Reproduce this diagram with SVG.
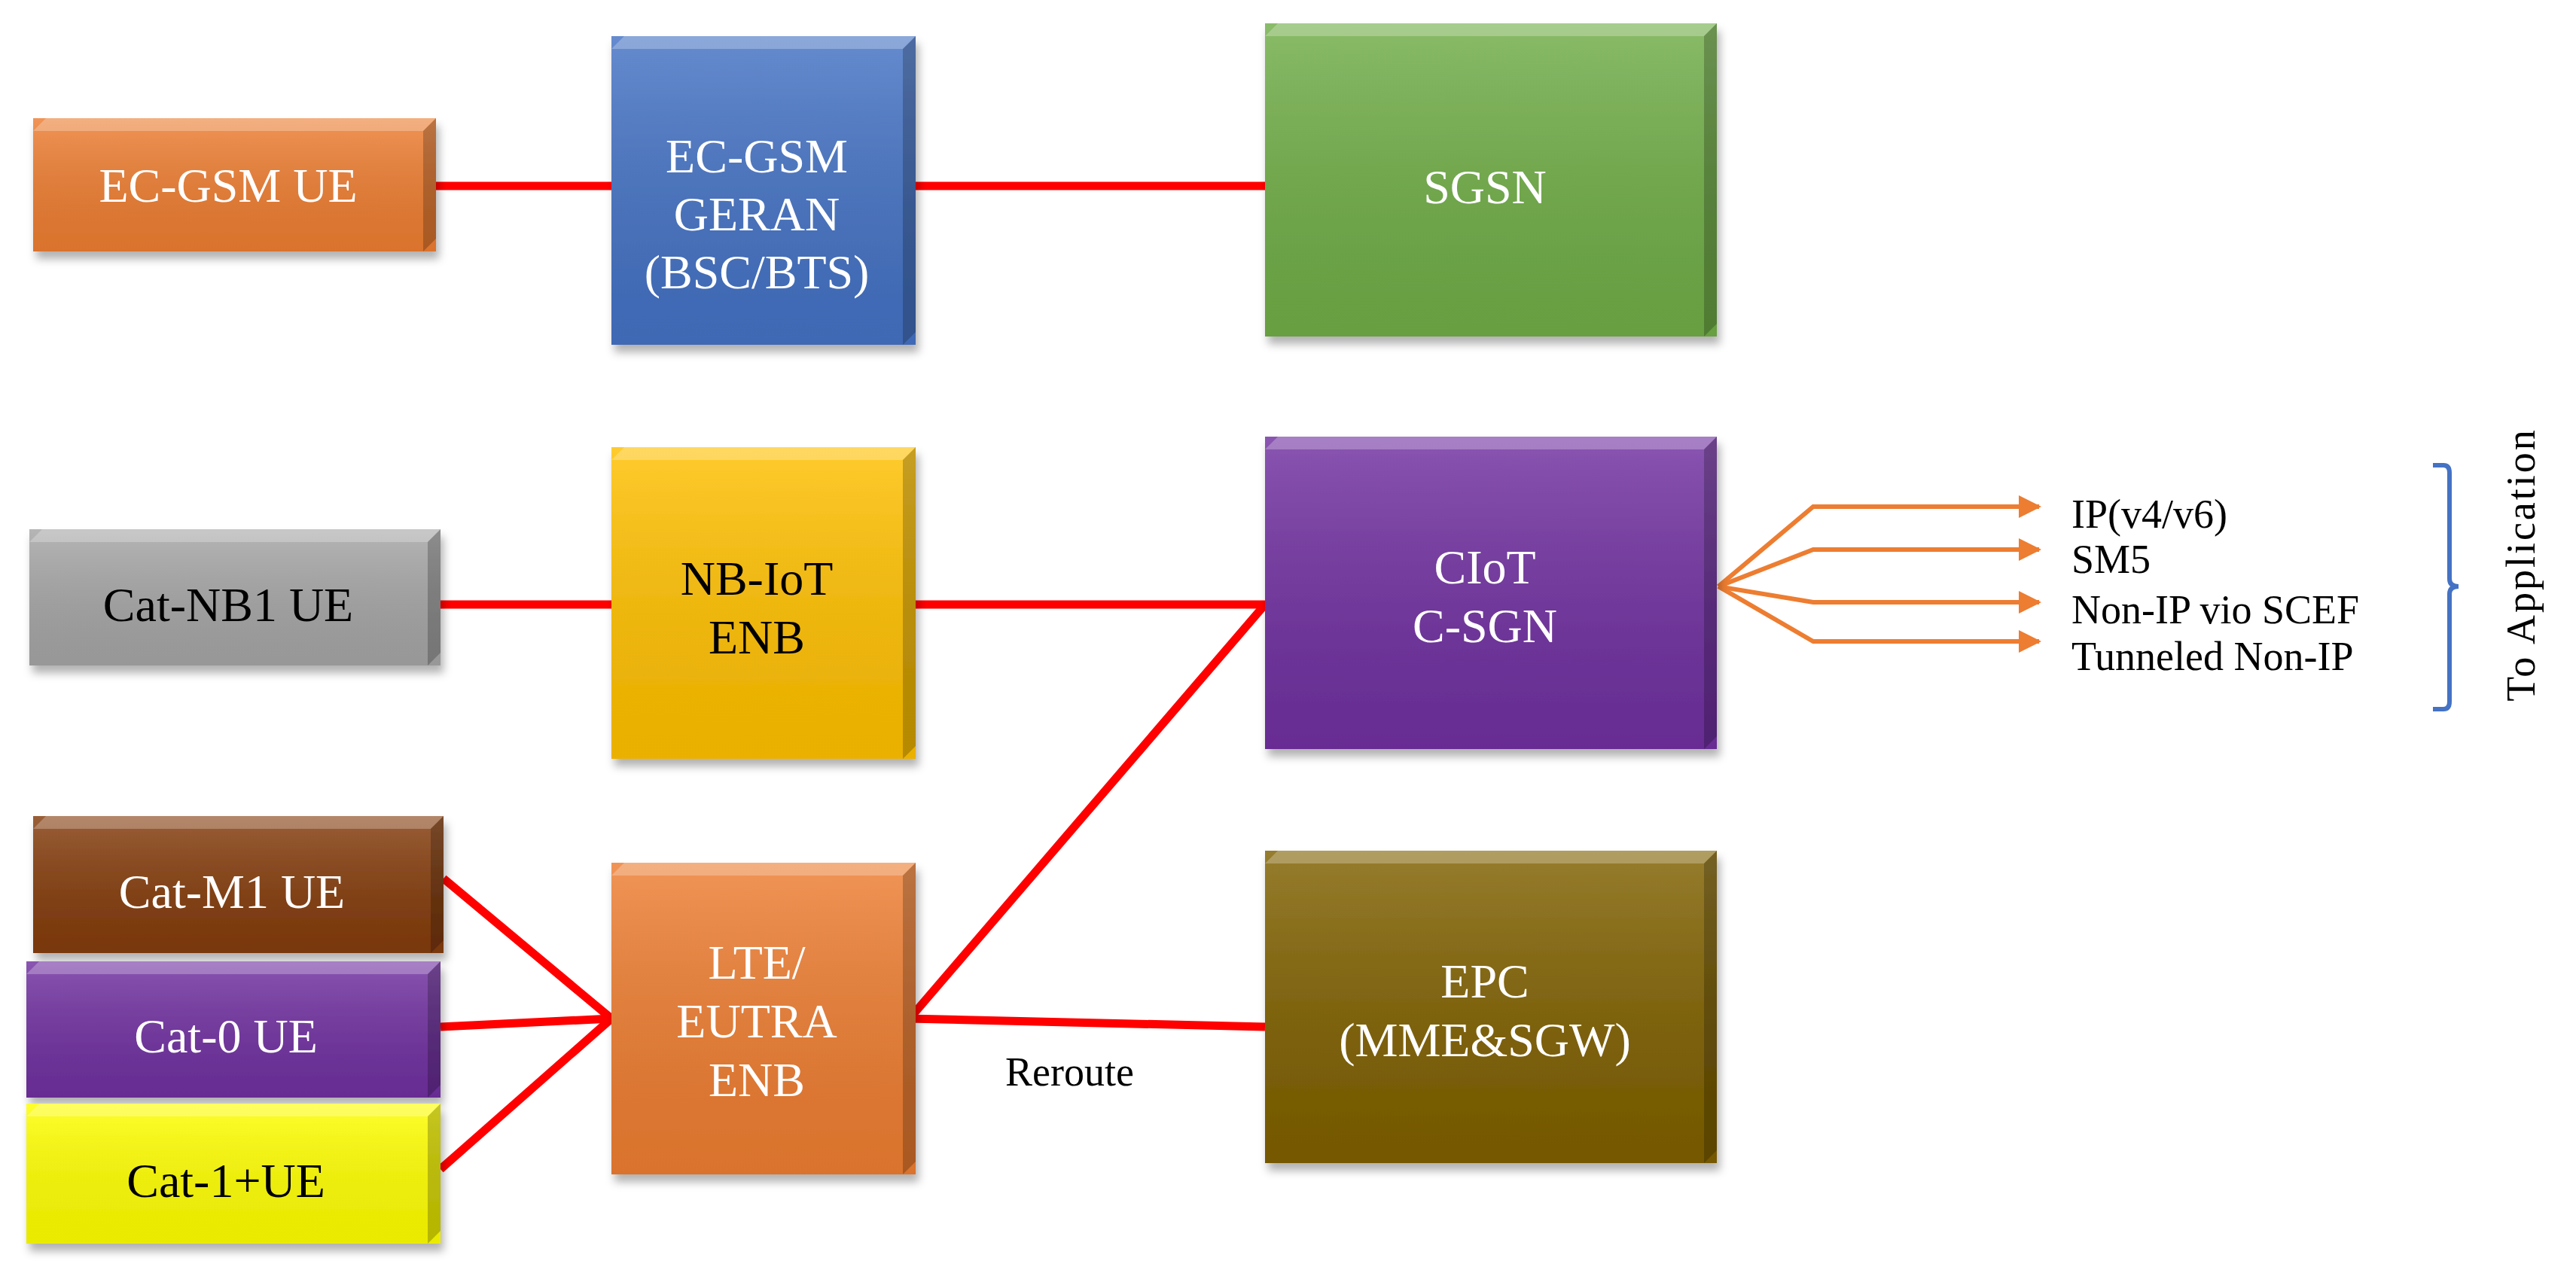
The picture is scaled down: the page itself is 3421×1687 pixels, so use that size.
<svg xmlns="http://www.w3.org/2000/svg" width="3421" height="1687" viewBox="0 0 3421 1687">
<defs>
<linearGradient id="shade" x1="0" y1="0" x2="0" y2="1"><stop offset="0" stop-color="#fff" stop-opacity="0.18"/><stop offset="1" stop-color="#000" stop-opacity="0.08"/></linearGradient>
<filter id="sh" x="-5%" y="-5%" width="115%" height="120%"><feDropShadow dx="4" dy="10" stdDeviation="6" flood-color="#000" flood-opacity="0.3"/></filter>
<marker id="ar" viewBox="0 0 10 10" refX="9" refY="5" markerWidth="5" markerHeight="5" orient="auto"><path d="M0,0L10,5L0,10z" fill="#ED7D31"/></marker>
</defs>
<style>
.t{font-family:"Liberation Serif",serif;font-size:64px;text-anchor:middle}
.w{fill:#fff}.k{fill:#000}
.top{fill:#fff;fill-opacity:0.25}.side{fill:#000;fill-opacity:0.22}
.red{stroke:#FF0000;stroke-width:11;fill:none}
.or{stroke:#ED7D31;stroke-width:6;fill:none}
.lbl{font-family:"Liberation Serif",serif;font-size:54px}
</style>
<g id="connectors">
<line class="red" x1="578" y1="247" x2="812" y2="247"/>
<line class="red" x1="1216" y1="247" x2="1680" y2="247"/>
<line class="red" x1="585" y1="803" x2="812" y2="803"/>
<line class="red" x1="1216" y1="803" x2="1680" y2="803"/>
<polyline class="red" points="1680,803 1208,1353 1680,1364"/>
<line class="red" x1="589" y1="1167" x2="812" y2="1353"/>
<line class="red" x1="585" y1="1364" x2="812" y2="1353"/>
<line class="red" x1="585" y1="1553" x2="812" y2="1353"/>
<polyline class="or" points="2282,779 2408,673 2708,673" marker-end="url(#ar)"/>
<polyline class="or" points="2282,779 2408,730 2708,730" marker-end="url(#ar)"/>
<polyline class="or" points="2282,779 2408,800 2708,800" marker-end="url(#ar)"/>
<polyline class="or" points="2282,779 2408,852 2708,852" marker-end="url(#ar)"/>
<path d="M3231,618 h14 q8,0 8,10 v141 q0,10 12,10 q-12,0 -12,10 v143 q0,10 -8,10 h-14" stroke="#4472C4" stroke-width="6" fill="none"/>
</g>
<text class="lbl" x="1335" y="1442">Reroute</text>
<text class="lbl" x="2751" y="701">IP(v4/v6)</text>
<text class="lbl" x="2751" y="761">SM5</text>
<text class="lbl" x="2751" y="828">Non-IP vio SCEF</text>
<text class="lbl" x="2751" y="890">Tunneled Non-IP</text>
<text class="lbl" x="0" y="0" text-anchor="middle" letter-spacing="3" transform="translate(3366,750) rotate(-90)">To Application</text>

<g id="ecgsm-ue" filter="url(#sh)"><rect x="44" y="157" width="535" height="177" fill="#ED7D31"/><rect x="44" y="157" width="535" height="177" fill="url(#shade)"/><polygon class="top" points="44,174 61,157 579,157 562,174"/><polygon class="side" points="562,174 579,157 579,317 562,334"/><text class="t w" x="303" y="268">EC-GSM UE</text></g>

<g id="geran" filter="url(#sh)"><rect x="812" y="48" width="404" height="410" fill="#4472C4"/><rect x="812" y="48" width="404" height="410" fill="url(#shade)"/><polygon class="top" points="812,65 829,48 1216,48 1199,65"/><polygon class="side" points="1199,65 1216,48 1216,441 1199,458"/><text class="t w" x="1005" y="229">EC-GSM</text><text class="t w" x="1005" y="306">GERAN</text><text class="t w" x="1005" y="383">(BSC/BTS)</text></g>

<g id="sgsn" filter="url(#sh)"><rect x="1680" y="31" width="600" height="416" fill="#70AD47"/><rect x="1680" y="31" width="600" height="416" fill="url(#shade)"/><polygon class="top" points="1680,48 1697,31 2280,31 2263,48"/><polygon class="side" points="2263,48 2280,31 2280,430 2263,447"/><text class="t w" x="1972" y="270">SGSN</text></g>

<g id="catnb1" filter="url(#sh)"><rect x="39" y="703" width="546" height="181" fill="#A5A5A5"/><rect x="39" y="703" width="546" height="181" fill="url(#shade)"/><polygon class="top" points="39,720 56,703 585,703 568,720"/><polygon class="side" points="568,720 585,703 585,867 568,884"/><text class="t k" x="303" y="825">Cat-NB1 UE</text></g>

<g id="nbiot" filter="url(#sh)"><rect x="812" y="594" width="404" height="414" fill="#FFC000"/><rect x="812" y="594" width="404" height="414" fill="url(#shade)"/><polygon class="top" points="812,611 829,594 1216,594 1199,611"/><polygon class="side" points="1199,611 1216,594 1216,991 1199,1008"/><text class="t k" x="1005" y="790">NB-IoT</text><text class="t k" x="1005" y="868">ENB</text></g>

<g id="ciot" filter="url(#sh)"><rect x="1680" y="580" width="600" height="415" fill="#7030A0"/><rect x="1680" y="580" width="600" height="415" fill="url(#shade)"/><polygon class="top" points="1680,597 1697,580 2280,580 2263,597"/><polygon class="side" points="2263,597 2280,580 2280,978 2263,995"/><text class="t w" x="1972" y="775">CIoT</text><text class="t w" x="1972" y="853">C-SGN</text></g>

<g id="catm1" filter="url(#sh)"><rect x="44" y="1084" width="545" height="182" fill="#843C0C"/><rect x="44" y="1084" width="545" height="182" fill="url(#shade)"/><polygon class="top" points="44,1101 61,1084 589,1084 572,1101"/><polygon class="side" points="572,1101 589,1084 589,1249 572,1266"/><text class="t w" x="308" y="1206">Cat-M1 UE</text></g>

<g id="cat0" filter="url(#sh)"><rect x="35" y="1277" width="550" height="181" fill="#7030A0"/><rect x="35" y="1277" width="550" height="181" fill="url(#shade)"/><polygon class="top" points="35,1294 52,1277 585,1277 568,1294"/><polygon class="side" points="568,1294 585,1277 585,1441 568,1458"/><text class="t w" x="300" y="1398">Cat-0 UE</text></g>

<g id="cat1" filter="url(#sh)"><rect x="35" y="1466" width="550" height="186" fill="#FFFF00"/><rect x="35" y="1466" width="550" height="186" fill="url(#shade)"/><polygon class="top" points="35,1483 52,1466 585,1466 568,1483"/><polygon class="side" points="568,1483 585,1466 585,1635 568,1652"/><text class="t k" x="300" y="1590">Cat-1+UE</text></g>

<g id="lte" filter="url(#sh)"><rect x="812" y="1146" width="404" height="414" fill="#ED7D31"/><rect x="812" y="1146" width="404" height="414" fill="url(#shade)"/><polygon class="top" points="812,1163 829,1146 1216,1146 1199,1163"/><polygon class="side" points="1199,1163 1216,1146 1216,1543 1199,1560"/><text class="t w" x="1005" y="1300">LTE/</text><text class="t w" x="1005" y="1378">EUTRA</text><text class="t w" x="1005" y="1456">ENB</text></g>

<g id="epc" filter="url(#sh)"><rect x="1680" y="1130" width="600" height="415" fill="#7F6000"/><rect x="1680" y="1130" width="600" height="415" fill="url(#shade)"/><polygon class="top" points="1680,1147 1697,1130 2280,1130 2263,1147"/><polygon class="side" points="2263,1147 2280,1130 2280,1528 2263,1545"/><text class="t w" x="1972" y="1325">EPC</text><text class="t w" x="1972" y="1403">(MME&amp;SGW)</text></g>
</svg>
